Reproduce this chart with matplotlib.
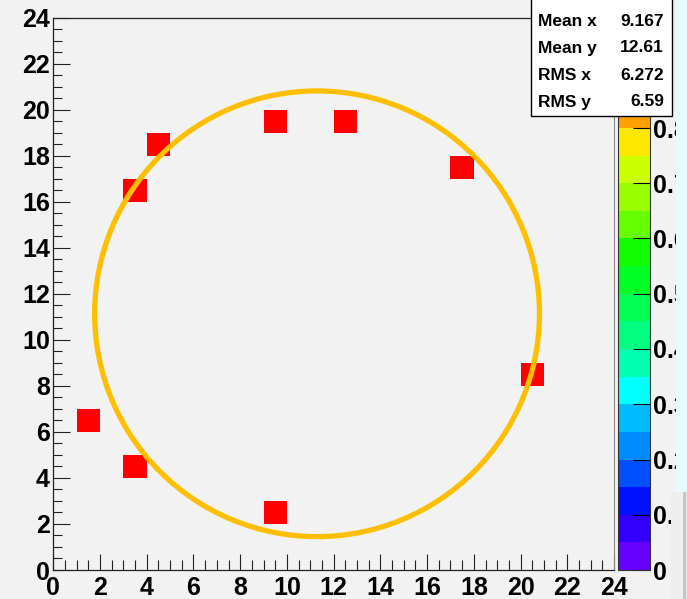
import numpy as np
import matplotlib
matplotlib.use("Agg")
import matplotlib.pyplot as plt
from matplotlib.colors import ListedColormap, Normalize
from matplotlib.patches import Ellipse, Rectangle

# filled bins of the 2D histogram (bin centres)
xs = [1.5, 3.5, 3.5, 4.5, 9.5, 12.5, 17.5, 20.5, 9.5]
ys = [6.5, 4.5, 16.5, 18.5, 19.5, 19.5, 17.5, 8.5, 2.5]

# circle drawn on top (centre and radii in axis units)
circle_center = (11.29, 11.13)
circle_radii = (9.52, 9.68)

# ROOT-like rainbow palette, 20 contour levels from 0 to 1
palette = ['#6600ff', '#3300ff', '#0011ff', '#0050ff', '#008cff',
           '#00bbff', '#00ffff', '#00ffb0', '#00ff80', '#00ff50',
           '#00ff22', '#11ff00', '#66ff00', '#99ff00', '#ccff00',
           '#ffe800', '#ffa000', '#ff7000', '#ff3800', '#ff0000']
# only the ticks that are not hidden behind the stats box
cbar_ticks = np.arange(0, 0.81, 0.1)

W, H = 687, 599
bg = '#f2f2f2'
plt.rcParams['font.family'] = ['Liberation Sans', 'DejaVu Sans']
plt.rcParams['font.weight'] = 'bold'

fig = plt.figure(figsize=(W / 100, H / 100), dpi=100, facecolor=bg)
ax = fig.add_axes([53.3 / W, (H - 570) / H, (614 - 53.3) / W, (570 - 17.5) / H])
ax.set_facecolor(bg)

h, xe, ye = np.histogram2d(xs, ys, bins=24, range=[[0, 24], [0, 24]])
cmap = ListedColormap(palette)
mesh = ax.pcolormesh(xe, ye, np.ma.masked_equal(h.T, 0), cmap=cmap,
                     norm=Normalize(0, 1))

ax.add_patch(Ellipse(circle_center, 2 * circle_radii[0], 2 * circle_radii[1],
                     fill=False, edgecolor='#ffbf00', linewidth=3.8))

ax.set_xlim(0, 24)
ax.set_ylim(0, 24)
ax.set_xticks(np.arange(0, 25, 2))
ax.set_yticks(np.arange(0, 25, 2))
ax.set_xticks(np.arange(0, 24.1, 0.5), minor=True)
ax.set_yticks(np.arange(0, 24.1, 0.5), minor=True)
ax.tick_params(axis='x', which='major', direction='in', length=11.5, width=0.8,
               labelsize=18, pad=4.5, color='#222222')
ax.tick_params(axis='x', which='minor', direction='in', length=7, width=0.8,
               color='#222222')
ax.tick_params(axis='y', which='major', direction='in', length=12, width=0.8,
               labelsize=18, pad=2.4, color='#222222')
ax.tick_params(axis='y', which='minor', direction='in', length=6.5, width=0.8,
               color='#222222')
for lab in ax.get_xticklabels() + ax.get_yticklabels():
    lab.set_fontweight('bold')
for side in ['left', 'bottom', 'top']:
    ax.spines[side].set_color('#222222')
    ax.spines[side].set_linewidth(0.9)
ax.spines['right'].set_color('#888888')

# palette axis
cax = fig.add_axes([617.5 / W, (H - 570) / H, 32.5 / W, (570 - 17.5) / H])
cb = fig.colorbar(mesh, cax=cax, ticks=cbar_ticks)
cb.outline.set_edgecolor('#333333')
cb.outline.set_linewidth(0.8)
cax.yaxis.set_ticks_position('right')
cax.minorticks_off()
cax.tick_params(direction='in', length=12, width=0.8, labelsize=18, pad=2.4)
cax.set_yticklabels([f"{t:g}" for t in cbar_ticks], fontweight='bold')

# statistics box
stat_names = ['Mean x', 'Mean y', 'RMS x', 'RMS y']
stat_vals = [np.mean(xs), np.mean(ys), np.std(xs), np.std(ys)]
box = Rectangle((531 / W, (H - 116) / H), (672 - 531) / W, 0.3,
                transform=fig.transFigure, facecolor='white',
                edgecolor='black', linewidth=1, zorder=20)
fig.patches.append(box)
rows_y = [22, 48, 76, 102]
for name, val, ry in zip(stat_names, stat_vals, rows_y):
    fig.text(538 / W, (H - ry) / H, name, fontsize=12.5, fontweight='bold',
             va='center', ha='left', zorder=21)
    fig.text(664 / W, (H - ry) / H, f"{val:.4g}", fontsize=12.5,
             fontweight='bold', va='center', ha='right', zorder=21)

# window edge strip on the right (it cuts the palette labels)
fig.patches.append(Rectangle((676 / W, (H - 492) / H), 11 / W, 492 / H,
                             transform=fig.transFigure, facecolor='#e6fbfe',
                             edgecolor='none', zorder=30))
fig.patches.append(Rectangle((671 / W, 0), 16 / W, (H - 492) / H,
                             transform=fig.transFigure, facecolor='#eeeeee',
                             edgecolor='none', zorder=30))
fig.patches.append(Rectangle((683 / W, 0), 2.5 / W, (H - 492) / H,
                             transform=fig.transFigure, facecolor='#c4c4c4',
                             edgecolor='none', zorder=31))

fig.savefig('out.png', dpi=100, facecolor=bg)
